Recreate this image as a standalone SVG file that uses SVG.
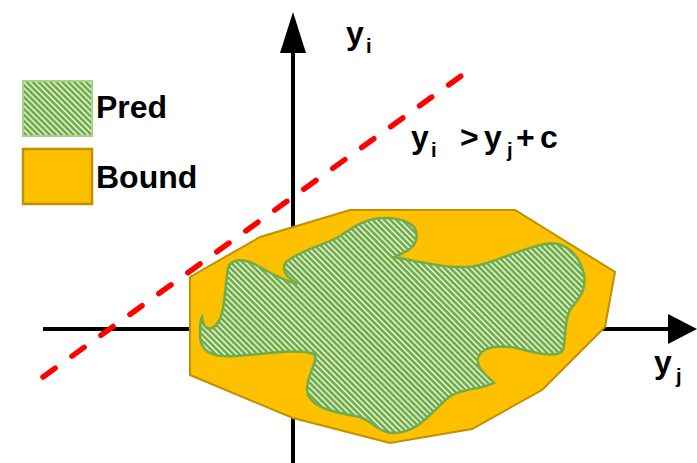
<svg xmlns="http://www.w3.org/2000/svg" width="697" height="463" viewBox="0 0 697 463">
<defs>
<pattern id="hatch" patternUnits="userSpaceOnUse" width="4.2" height="4.2" patternTransform="rotate(-45)">
<rect width="4.2" height="4.2" fill="#70AD47"/>
<rect x="0" y="0" width="1.5" height="4.2" fill="#EAF4E2"/>
</pattern>
<style>
.lbl{font-family:"Liberation Sans",Arial,sans-serif;font-weight:bold;fill:#000}
.big{font-size:32px}
.sub{font-size:20px}
.bound{fill:#FFC000;stroke:#BF9000;stroke-width:2}
.pred{fill:url(#hatch);stroke:#70AD47;stroke-width:2.5}
.axis{stroke:#000;stroke-width:4;fill:none}
</style>
</defs>
<g id="axes">
<line class="axis" x1="293" y1="463" x2="293" y2="50"/>
<polygon points="293,12 306,53 280,53" fill="#000"/>
<line class="axis" x1="43" y1="329" x2="670" y2="329"/>
<polygon points="697,329 668,314 668,344" fill="#000"/>
</g>
<g id="bound-region">
<polygon class="bound" points="190,277 260,237 350,210 515,210 615,272 605,327 542,390 472,429 390,443 293,418 190,375"/>
</g>
<g id="pred-region">
<path class="pred" d="M202,317 C203,326 206,330 212,328 C226,322 224,290 228,268 C231,258 245,258 258,266 C272,274 288,282 297,284 C288,278 280,270 286,262 C300,250 325,245 340,236 C352,228 365,218 385,218 C405,218 420,225 416,240 C414,250 400,254 394,257 C420,262 445,268 465,267 C490,266 515,250 545,244 C565,240 580,255 584,275 C587,292 577,300 570,310 C564,320 566,340 563,350 C558,358 540,354 520,349 C500,344 482,346 478,358 C475,368 490,378 494,383 C480,390 460,388 448,398 C435,408 420,432 395,433 C380,434 370,420 360,417 C340,413 315,410 308,395 C303,380 320,360 314,354 C300,348 265,354 235,356 C210,358 200,350 200,335 C200,327 200,320 202,317 Z"/>
</g>
<g id="connectors">
<line x1="43" y1="377" x2="461" y2="76" stroke="#FF0000" stroke-width="5.5" stroke-linecap="round" stroke-dasharray="15 20.7"/>
</g>
<g id="legend-pred">
<rect x="23" y="81" width="69" height="55" fill="url(#hatch)" stroke="#A9D18E" stroke-width="2"/>
<text class="lbl big" x="96" y="118">Pred</text>
</g>
<g id="legend-bound">
<rect x="23" y="149" width="69" height="55" fill="#FFC000" stroke="#BF9000" stroke-width="2.5"/>
<text class="lbl big" x="96" y="188">Bound</text>
</g>
<g id="label-yi">
<text class="lbl big" x="346" y="44">y</text>
<text class="lbl sub" x="366" y="53">i</text>
</g>
<g id="label-inequality">
<text class="lbl big" x="411" y="148">y</text>
<text class="lbl sub" x="431" y="157">i</text>
<text class="lbl big" x="460" y="148">&gt;</text>
<text class="lbl big" x="484" y="148">y</text>
<text class="lbl sub" x="507" y="157">j</text>
<text class="lbl big" x="516" y="148">+</text>
<text class="lbl big" x="540" y="148">c</text>
</g>
<g id="label-yj">
<text class="lbl big" x="654" y="373">y</text>
<text class="lbl sub" x="676" y="383">j</text>
</g>
</svg>
